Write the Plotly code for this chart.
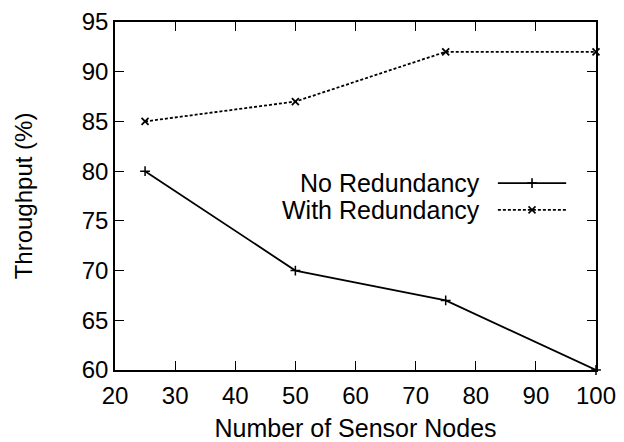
import plotly.graph_objects as go

nodes = [25, 50, 75, 100]
no_redundancy = [80, 70, 67, 60]
with_redundancy = [85, 87, 92, 92]
series_names = ["No Redundancy", "With Redundancy"]
x_ticks = [20, 30, 40, 50, 60, 70, 80, 90, 100]
y_ticks = [60, 65, 70, 75, 80, 85, 90, 95]

FONT = "Liberation Sans, Arial, sans-serif"
fig = go.Figure()

fig.add_trace(go.Scatter(
    x=nodes, y=no_redundancy, mode="lines+markers", name=series_names[0],
    line=dict(color="black", width=1.8),
    marker=dict(symbol="cross-thin", size=7, color="black", line=dict(color="black", width=1.5)),
    showlegend=False, cliponaxis=False))
fig.add_trace(go.Scatter(
    x=nodes, y=with_redundancy, mode="lines+markers", name=series_names[1],
    line=dict(color="black", width=1.8, dash="3px,2px"),
    marker=dict(symbol="x-thin", size=7, color="black", line=dict(color="black", width=1.8)),
    showlegend=False, cliponaxis=False))

# legend samples on an overlay axis (0..1 of the plot area)
leg_y = [0.537, 0.460]
for i, (nm, dash, sym) in enumerate([(series_names[0], "solid", "cross-thin"),
                                      (series_names[1], "3px,2px", "x-thin")]):
    fig.add_trace(go.Scatter(
        x=[0.796, 0.938], y=[leg_y[i], leg_y[i]], mode="lines", xaxis="x2", yaxis="y2",
        line=dict(color="black", width=1.6, dash=dash), showlegend=False, hoverinfo="skip"))
    fig.add_trace(go.Scatter(
        x=[0.867], y=[leg_y[i]], mode="markers", xaxis="x2", yaxis="y2",
        marker=dict(symbol=sym, size=7, color="black", line=dict(color="black", width=1.6)),
        showlegend=False, hoverinfo="skip"))
    fig.add_annotation(x=0.763, y=leg_y[i], xref="x2", yref="y2", text=nm, showarrow=False,
                       xanchor="right", yanchor="middle", font=dict(size=25, color="black", family=FONT))

axis_common = dict(showgrid=False, zeroline=False, showline=True, linecolor="black", linewidth=1.6,
                   mirror="allticks", ticks="inside", ticklen=9, tickwidth=1, tickcolor="black",
                   automargin=False,
                   tickfont=dict(size=24, color="black", family=FONT))
fig.update_layout(
    width=616, height=434,
    margin=dict(l=107, r=28, t=14, b=72),
    paper_bgcolor="white", plot_bgcolor="white",
    font=dict(family=FONT, size=24, color="black"),
    xaxis=dict(range=[20, 100], tickvals=x_ticks, ticklabelstandoff=3,
               title=dict(text="Number of Sensor Nodes", standoff=19, font=dict(size=25)), **axis_common),
    yaxis=dict(range=[60, 95], tickvals=y_ticks,
               title=dict(text="Throughput (%)", standoff=42, font=dict(size=24)), **axis_common),
    xaxis2=dict(range=[0, 1], overlaying="x", visible=False),
    yaxis2=dict(range=[0, 1], overlaying="y", visible=False),
)

fig.write_html("out.html")
